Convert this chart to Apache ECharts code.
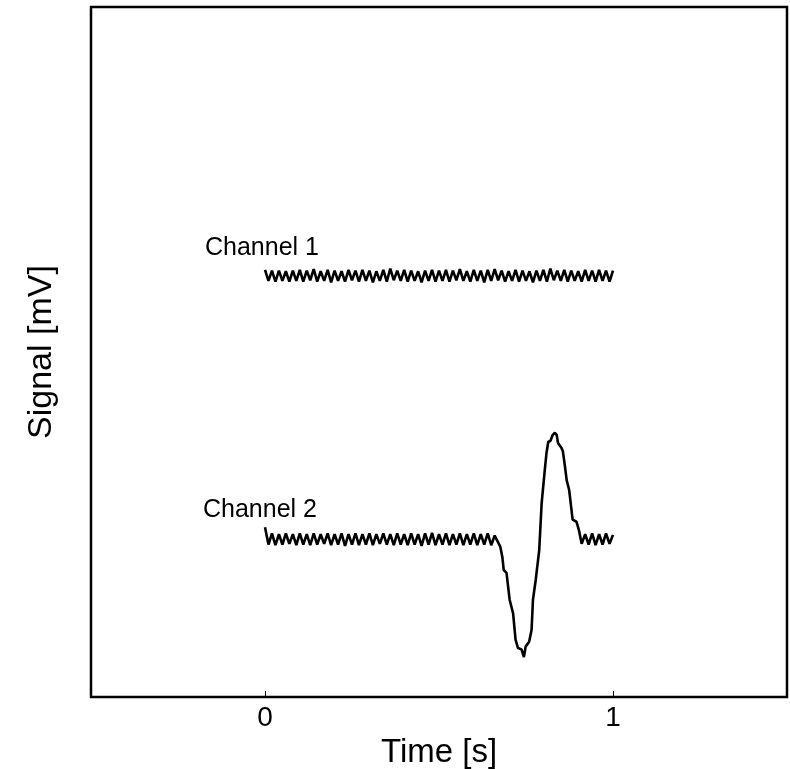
<!DOCTYPE html>
<html>
<head>
<meta charset="utf-8">
<script src="https://cdn.jsdelivr.net/npm/echarts@6/dist/echarts.min.js"></script>
<style>html,body{margin:0;padding:0;background:#fff;}#c{width:790px;height:769px;}</style>
</head>
<body>
<div id="c"></div>
<script>
// ---- data (time in s, signal in arbitrary mV units) ----
var xTickValues = [0, 1];
var xTickLabels = ['0', '1'];
var seriesNames = ['Channel 1', 'Channel 2'];

var ch1Time = [0.00,0.01,0.02,0.03,0.04,0.05,0.06,0.07,0.08,0.09,
  0.10,0.11,0.12,0.13,0.14,0.15,0.16,0.17,0.18,0.19,
  0.20,0.21,0.22,0.23,0.24,0.25,0.26,0.27,0.28,0.29,
  0.30,0.31,0.32,0.33,0.34,0.35,0.36,0.37,0.38,0.39,
  0.40,0.41,0.42,0.43,0.44,0.45,0.46,0.47,0.48,0.49,
  0.50,0.51,0.52,0.53,0.54,0.55,0.56,0.57,0.58,0.59,
  0.60,0.61,0.62,0.63,0.64,0.65,0.66,0.67,0.68,0.69,
  0.70,0.71,0.72,0.73,0.74,0.75,0.76,0.77,0.78,0.79,
  0.80,0.81,0.82,0.83,0.84,0.85,0.86,0.87,0.88,0.89,
  0.90,0.91,0.92,0.93,0.94,0.95,0.96,0.97,0.98,0.99,1.00];
var ch1Value = [6.19,6.03,6.18,6.02,6.18,6.03,6.17,6.02,6.18,6.03,
  6.19,6.02,6.18,6.04,6.20,6.02,6.17,6.03,6.19,6.01,
  6.18,6.03,6.17,6.02,6.19,6.04,6.18,6.02,6.19,6.03,
  6.18,6.01,6.17,6.03,6.19,6.02,6.21,6.04,6.18,6.03,
  6.19,6.02,6.18,6.03,6.17,6.01,6.18,6.03,6.19,6.02,
  6.18,6.03,6.19,6.02,6.18,6.04,6.20,6.03,6.17,6.02,
  6.19,6.03,6.18,6.01,6.19,6.03,6.20,6.04,6.18,6.02,
  6.17,6.03,6.19,6.02,6.18,6.03,6.17,6.01,6.18,6.03,
  6.19,6.02,6.21,6.04,6.18,6.03,6.19,6.02,6.18,6.03,
  6.17,6.02,6.19,6.03,6.18,6.02,6.19,6.03,6.18,6.02,6.18];

var ch2Time = [0.00,0.01,0.02,0.03,0.04,0.05,0.06,0.07,0.08,0.09,
  0.10,0.11,0.12,0.13,0.14,0.15,0.16,0.17,0.18,0.19,
  0.20,0.21,0.22,0.23,0.24,0.25,0.26,0.27,0.28,0.29,
  0.30,0.31,0.32,0.33,0.34,0.35,0.36,0.37,0.38,0.39,
  0.40,0.41,0.42,0.43,0.44,0.45,0.46,0.47,0.48,0.49,
  0.50,0.51,0.52,0.53,0.54,0.55,0.56,0.57,0.58,0.59,
  0.60,0.61,0.62,0.63,0.64,0.65,0.66,
  0.676,0.682,0.686,0.694,0.703,0.713,0.720,0.727,0.737,0.744,
  0.749,0.759,0.766,0.770,0.778,0.788,0.795,0.804,0.809,0.814,
  0.820,0.827,0.833,0.838,0.842,0.852,0.856,0.862,0.867,0.874,
  0.884,0.895,0.902,
  0.91,0.92,0.93,0.94,0.95,0.96,0.97,0.98,0.99,1.00];
var ch2Value = [2.46,2.21,2.37,2.20,2.36,2.21,2.37,2.22,2.36,2.20,
  2.37,2.21,2.36,2.20,2.37,2.21,2.36,2.22,2.37,2.20,
  2.36,2.21,2.37,2.19,2.36,2.21,2.37,2.20,2.36,2.21,
  2.37,2.20,2.36,2.22,2.37,2.21,2.36,2.20,2.37,2.21,
  2.36,2.20,2.37,2.21,2.36,2.19,2.37,2.21,2.38,2.20,
  2.36,2.21,2.37,2.20,2.36,2.21,2.37,2.20,2.36,2.21,
  2.37,2.20,2.36,2.21,2.37,2.20,2.34,
  2.18,2.03,1.84,1.80,1.41,1.21,0.83,0.71,0.69,0.58,
  0.73,0.80,0.97,1.41,1.70,2.13,2.81,3.29,3.54,3.70,
  3.71,3.80,3.83,3.80,3.68,3.61,3.56,3.34,3.14,3.00,
  2.57,2.54,2.42,
  2.22,2.36,2.21,2.37,2.20,2.36,2.21,2.37,2.22,2.35];

function zip(a, b) { var r = []; for (var i = 0; i < a.length; i++) r.push([a[i], b[i]]); return r; }

var FONT = '"Liberation Sans", Arial, sans-serif';
var chart = echarts.init(document.getElementById('c'), null, { renderer: 'canvas' });
chart.setOption({
  animation: false,
  backgroundColor: '#ffffff',
  grid: { left: 91, right: 3, top: 7, bottom: 72, outerBoundsMode: 'none', containLabel: false,
    show: true, borderColor: '#000', borderWidth: 2.5, backgroundColor: 'transparent' },
  xAxis: {
    type: 'value', min: -0.5, max: 1.5,
    name: 'Time [s]', nameLocation: 'middle', nameGap: 24,
    nameTextStyle: { fontFamily: FONT, fontSize: 33, color: '#000' },
    axisLine: { show: false },
    axisTick: { show: true, inside: true, length: 6, customValues: xTickValues, lineStyle: { color: '#000', width: 1 } },
    axisLabel: { customValues: xTickValues, formatter: function (v) { return xTickLabels[xTickValues.indexOf(v)]; }, fontFamily: FONT, fontSize: 28, color: '#000', margin: 7 },
    splitLine: { show: false }
  },
  yAxis: {
    type: 'value', min: 0, max: 10,
    name: 'Signal [mV]', nameLocation: 'middle', nameGap: 32,
    nameTextStyle: { fontFamily: FONT, fontSize: 34, color: '#000' },
    axisLine: { show: false }, axisTick: { show: false }, axisLabel: { show: false }, splitLine: { show: false }
  },
  graphic: [
    { type: 'text', left: 205, top: 236, style: { text: seriesNames[0], font: '25px ' + FONT, fill: '#000' } },
    { type: 'text', left: 203, top: 498, style: { text: seriesNames[1], font: '25px ' + FONT, fill: '#000' } }
  ],
  series: [
    { name: seriesNames[0], type: 'line', data: zip(ch1Time, ch1Value), showSymbol: false, lineStyle: { color: '#000', width: 2.6 } },
    { name: seriesNames[1], type: 'line', data: zip(ch2Time, ch2Value), showSymbol: false, lineStyle: { color: '#000', width: 2.6 } }
  ]
});
</script>
</body>
</html>
